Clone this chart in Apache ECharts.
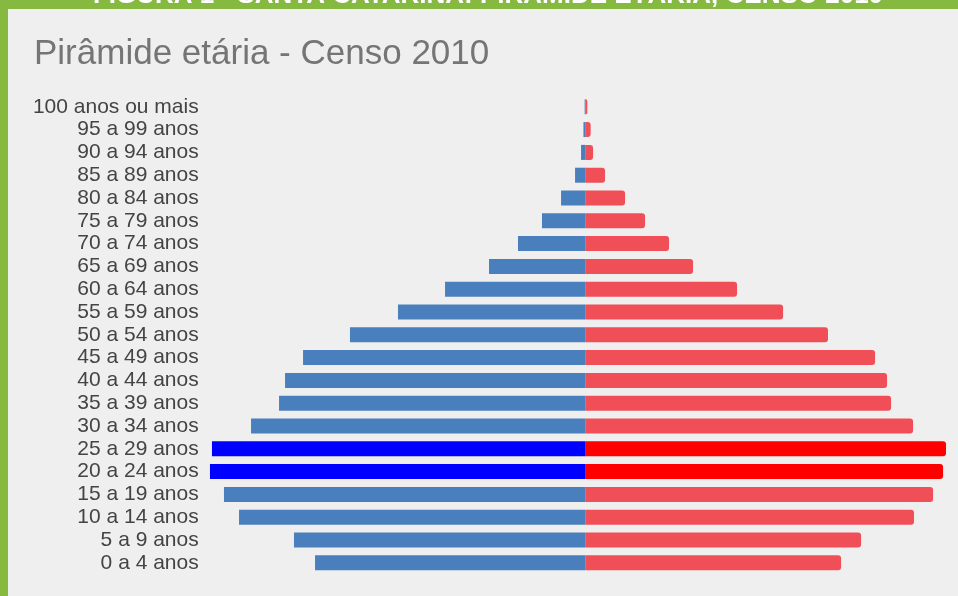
<!DOCTYPE html>
<html>
<head>
<meta charset="utf-8">
<script src="https://cdn.jsdelivr.net/npm/echarts@6/dist/echarts.min.js"></script>
<style>
html,body{margin:0;padding:0;background:#85b940;}
#c{width:958px;height:596px;}
</style>
</head>
<body>
<div id="c"></div>
<script>
const categories = ['0 a 4 anos','5 a 9 anos','10 a 14 anos','15 a 19 anos','20 a 24 anos','25 a 29 anos','30 a 34 anos','35 a 39 anos','40 a 44 anos','45 a 49 anos','50 a 54 anos','55 a 59 anos','60 a 64 anos','65 a 69 anos','70 a 74 anos','75 a 79 anos','80 a 84 anos','85 a 89 anos','90 a 94 anos','95 a 99 anos','100 anos ou mais'];
const homens = [203000,218800,260000,271300,281800,280300,251000,230000,225500,212000,176800,140800,105500,72500,50800,32800,18500,8000,3500,1700,800];
const mulheres = [191500,206500,246200,260500,268000,270200,245500,229000,226000,217000,181700,148000,113500,80500,62500,44500,29500,14500,5500,3700,1200];
const destaque = ['20 a 24 anos','25 a 29 anos'];
const titulo = 'Pirâmide etária - Censo 2010';
const cabecalho = 'FIGURA 1 - SANTA CATARINA: PIRÂMIDE ETÁRIA, CENSO 2010';

const corH = '#4a7fbd', corHD = '#0000ff';
const corM = '#f04f57', corMD = '#ff0000';

const chart = echarts.init(document.getElementById('c'), null, {renderer:'canvas'});
const font = "'Liberation Sans', Arial, sans-serif";

chart.setOption({
  backgroundColor: '#85b940',
  animation: false,
  graphic: [
    {type:'rect', shape:{x:8, y:9, width:950, height:587}, style:{fill:'#efefef'}, z:-10},
    {type:'text', x:488, y:8.5, style:{text:cabecalho, fill:'#ffffff', font:"bold 26px " + font, textAlign:'center', textVerticalAlign:'bottom'}}
  ],
  title: {
    text: titulo, left: 29, top: 32,
    textStyle: {color:'#757575', fontSize:35, fontWeight:'normal', fontFamily:font}
  },
  tooltip: {trigger:'axis', axisPointer:{type:'shadow'}},
  grid: {left:209.7, top:95.4, height:478.8, width:738.7, containLabel:false},
  xAxis: {
    type:'value', min:-282000, max:272000, show:false, splitLine:{show:false}
  },
  yAxis: {
    type:'category', data:categories,
    axisLine:{show:false}, axisTick:{show:false},
    axisLabel:{color:'#444', fontSize:21, fontFamily:font, margin:11, interval:0}
  },
  series: [
    {
      name:'Homens', type:'bar', barWidth:15, barGap:'-100%',
      data: homens.map((v,i)=>({value:-v, itemStyle:{color: destaque.includes(categories[i]) ? corHD : corH}})),
      itemStyle:{color:corH}
    },
    {
      name:'Mulheres', type:'bar', barWidth:15, barGap:'-100%',
      data: mulheres.map((v,i)=>({value:v, itemStyle:{color: destaque.includes(categories[i]) ? corMD : corM}})),
      itemStyle:{color:corM, borderRadius:[0,3,3,0]}
    }
  ]
});
</script>
</body>
</html>
